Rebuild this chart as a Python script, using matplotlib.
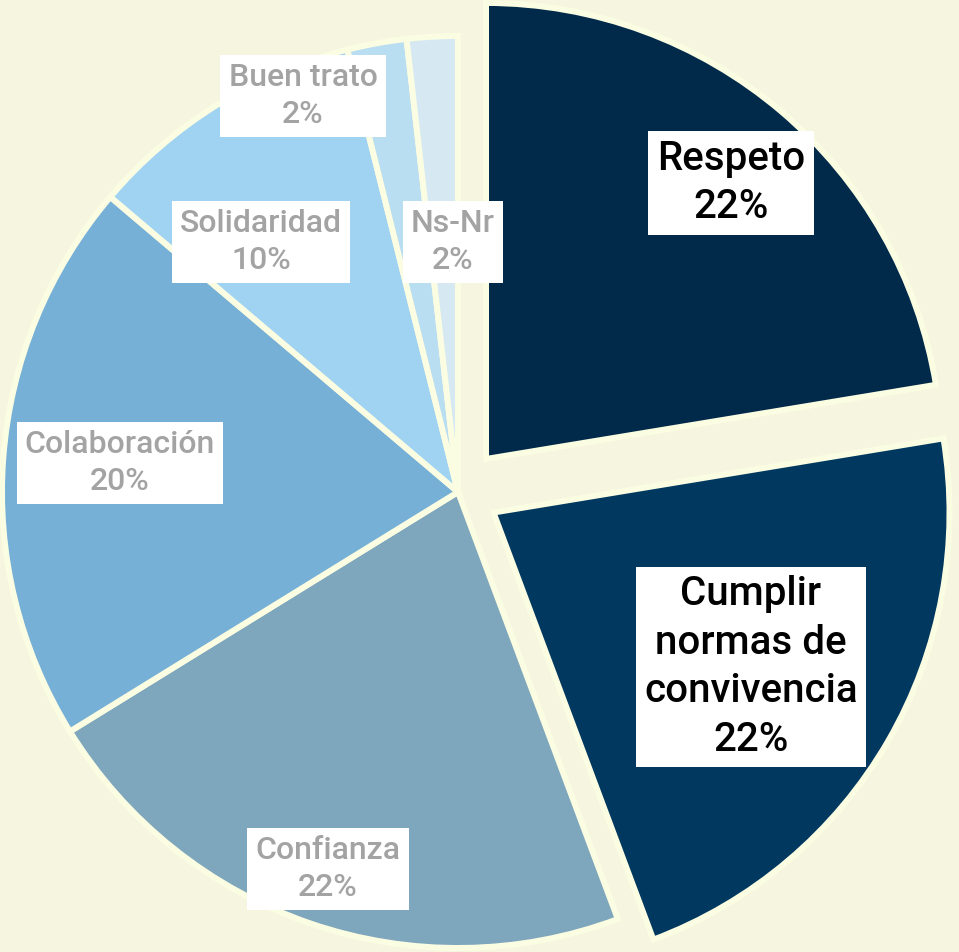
import matplotlib.pyplot as plt

categorias = ["Respeto", "Cumplir\nnormas de\nconvivencia", "Confianza", "Colaboración",
              "Solidaridad", "Buen trato", "Ns-Nr"]
porcentajes = [22.4, 21.9, 21.9, 20.0, 9.9, 2.1, 1.8]
colores = ["#00294a", "#00385f", "#7ea6bc", "#77b0d6", "#a0d3f1", "#b9ddf1", "#d6e9f3"]
separacion = [0.095, 0.09, 0, 0, 0, 0, 0]

# posiciones de las etiquetas en pixeles (x, y desde arriba)
pos_etiquetas = [(731, 183), (751, 667), (328, 869), (120, 463), (261, 242), (303, 96), (453, 242)]
color_texto = ["black", "black", "#a3a3a3", "#a3a3a3", "#a3a3a3", "#a3a3a3", "#a3a3a3"]
tam_texto = [29, 29, 23, 23, 23, 23, 23]

fondo = "#f6f5e0"
cx, cy, r = 458, 492, 456

fig = plt.figure(figsize=(9.59, 9.52), dpi=100)
fig.patch.set_facecolor(fondo)
ax = fig.add_axes([0, 0, 1, 1])
ax.set_facecolor(fondo)

ax.pie(porcentajes, colors=colores, startangle=90, counterclock=False,
       explode=separacion, radius=1,
       wedgeprops=dict(edgecolor="#fbfde2", linewidth=4.3))

ax.set_xlim(-cx / r, (959 - cx) / r)
ax.set_ylim((cy - 952) / r, cy / r)
ax.set_aspect("equal")
ax.axis("off")

for cat, p, (px, py), c, s in zip(categorias, porcentajes, pos_etiquetas, color_texto, tam_texto):
    ax.text((px - cx) / r, (cy - py) / r, f"{cat}\n{round(p)}%", ha="center", va="center",
            color=c, fontsize=s, family="Roboto", fontweight="medium", linespacing=1.35,
            bbox=dict(facecolor="white", edgecolor="none", pad=6))

fig.savefig("out.png", dpi=100, facecolor=fondo)
